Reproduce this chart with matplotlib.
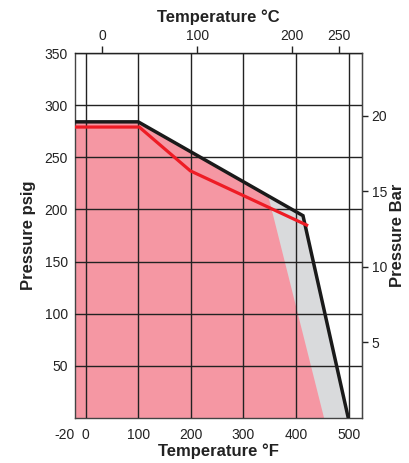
import matplotlib.pyplot as plt
import numpy as np

plt.rcParams['font.family'] = ['Liberation Sans', 'DejaVu Sans']
plt.rcParams['axes.unicode_minus'] = False

# rating curves, temperature in deg F, pressure in psig
black_f = [-20, 100, 413, 499]
black_psi = [284, 284, 194, 0]
red_f = [-20, 102, 199, 420]
red_psi = [279, 279, 237, 185]
# right edge of the pink zone (bottom, top)
pink_edge_f = [453, 347]

x_ticks = [-20, 0, 100, 200, 300, 400, 500]
y_ticks = [50, 100, 150, 200, 250, 300, 350]
c_ticks = [0, 100, 200, 250]
bar_ticks = [5, 10, 15, 20]

PSI_PER_BAR = 14.5038


def f_to_c(f):
	return (np.asarray(f) - 32) * 5 / 9


def c_to_f(c):
	return np.asarray(c) * 9 / 5 + 32


def psi_to_bar(p):
	return np.asarray(p) / PSI_PER_BAR


def bar_to_psi(b):
	return np.asarray(b) * PSI_PER_BAR


fig = plt.figure(figsize=(4.09, 4.63), dpi=100)
ax = fig.add_axes([0.1834, 0.0972, 0.7016, 0.7883])

# gray zone under the whole black curve
ax.fill_between(black_f, black_psi, 0, color='#d9dadc', lw=0, zorder=1)

# pink zone: under black curve, cut by a slanted edge
top_psi = np.interp(pink_edge_f[1], black_f, black_psi)
px = [black_f[0]] + [f for f in black_f if f < pink_edge_f[1]] + [pink_edge_f[1], pink_edge_f[0]]
py = [0] + [p for f, p in zip(black_f, black_psi) if f < pink_edge_f[1]] + [top_psi, 0]
ax.fill(px, py, color='#f597a3', lw=0, zorder=1)

ax.plot(black_f, black_psi, color='#1a1a1a', lw=2.5, solid_joinstyle='miter', zorder=3)
ax.plot(red_f, red_psi, color='#ee1c25', lw=2.3, solid_joinstyle='miter', zorder=3)

ax.set_xlim(-20, 525)
ax.set_ylim(0, 350)
ax.set_axisbelow(False)
ax.set_xticks(x_ticks)
ax.set_yticks(y_ticks)
ax.grid(True, color='#222222', lw=1.0)
for gl in ax.get_xgridlines()[:1]:
	gl.set_visible(False)
ax.tick_params(axis='both', length=0, labelsize=10, colors='#222222')
ax.tick_params(axis='x', pad=7)
ax.tick_params(axis='y', pad=5)
ax.get_xticklabels()[0].set_horizontalalignment('right')
for s in ax.spines.values():
	s.set_color('#444444')
	s.set_linewidth(1.0)

ax.set_xlabel('Temperature °F', fontsize=12, fontweight='bold', color='#222222', labelpad=1)
ax.set_ylabel('Pressure psig', fontsize=12, fontweight='bold', color='#222222', labelpad=6)

top = ax.secondary_xaxis('top', functions=(f_to_c, c_to_f))
top.set_xticks(c_ticks)
top.tick_params(length=5, width=1, pad=2, labelsize=10, colors='#222222')
top.set_xlabel('Temperature °C', fontsize=12, fontweight='bold', color='#222222', labelpad=5)

right = ax.secondary_yaxis('right', functions=(psi_to_bar, bar_to_psi))
right.set_yticks(bar_ticks)
right.tick_params(length=4, width=1, pad=3, labelsize=10, colors='#222222')
right.set_ylabel('Pressure Bar', fontsize=12, fontweight='bold', color='#222222', labelpad=2)

fig.savefig('out.png', dpi=100)
